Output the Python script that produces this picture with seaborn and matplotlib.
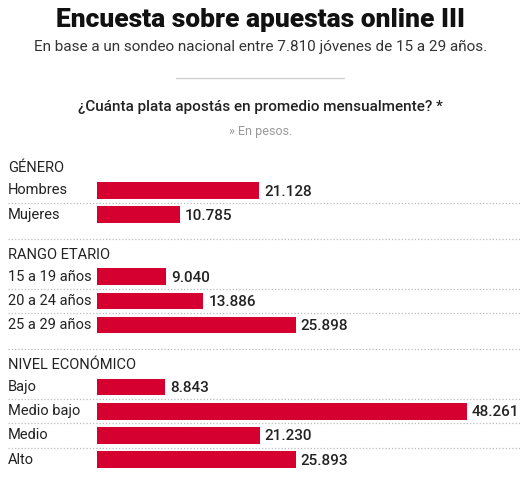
import matplotlib
matplotlib.use("Agg")
import matplotlib.pyplot as plt
import matplotlib.transforms as mtransforms
import seaborn as sns
import pandas as pd

sns.set_theme(style="white")
plt.rcParams["font.family"] = ["Roboto", "DejaVu Sans"]

# ---- data ----
title = "Encuesta sobre apuestas online III"
subtitle = "En base a un sondeo nacional entre 7.810 jóvenes de 15 a 29 años."
question = "¿Cuánta plata apostás en promedio mensualmente? *"
note = "» En pesos."

group_names = ["GÉNERO", "RANGO ETARIO", "NIVEL ECONÓMICO"]
genero_labels = ["Hombres", "Mujeres"]
genero_values = [21128, 10785]
edad_labels = ["15 a 19 años", "20 a 24 años", "25 a 29 años"]
edad_values = [9040, 13886, 25898]
nivel_labels = ["Bajo", "Medio bajo", "Medio", "Alto"]
nivel_values = [8843, 48261, 21230, 25893]

groups = [(genero_labels, genero_values), (edad_labels, edad_values),
          (nivel_labels, nivel_values)]

# ---- layout (pixel units, top-down) ----
W, H = 521, 480
PITCH = 24.2
first_bar = 190.5
header_off = 22
sep_after = 24
header_after_sep = 16
bar_left_px = 97
scale_px = 370 / 48261  # pixels per peso

rows = []
headers = []
seps = []
y = first_bar
for gi, (labs, vals) in enumerate(groups):
    headers.append((group_names[gi], y - header_off))
    for k, (l, v) in enumerate(zip(labs, vals)):
        rows.append({"label": l, "value": v, "ypos": y})
        if k < len(labs) - 1:
            seps.append(y + PITCH / 2)
            y += PITCH
    sep = y + sep_after
    if gi < len(groups) - 1:
        seps.append(sep)
    y = sep + header_after_sep + header_off

df = pd.DataFrame(rows)

fig = plt.figure(figsize=(W / 100, H / 100), dpi=100)
fig.patch.set_facecolor("white")
ax = fig.add_axes([bar_left_px / W, 0, 1 - bar_left_px / W, 1])
xmax = (W - bar_left_px) / scale_px

red = "#d5002f"
sns.barplot(data=df, x="value", y="ypos", orient="h", native_scale=True,
            color=red, width=0.68, saturation=1, ax=ax, edgecolor="none")
ax.set_xlim(0, xmax)
ax.set_ylim(H, 0)
ax.axis("off")

blend = mtransforms.blended_transform_factory(fig.transFigure, ax.transData)

# separators
for s in seps:
    ax.plot([8 / W, 1], [s, s], transform=blend, color="#bdbdbd", lw=0.9,
            linestyle=(0, (1, 1.6)), clip_on=False)

# headers
for name, hy in headers:
    ax.text(8 / W, hy, name, transform=blend, ha="left", va="center",
            fontsize=10.5, color="#222222")

# row labels and values
for _, r in df.iterrows():
    ax.text(8 / W, r["ypos"], r["label"], transform=blend, ha="left",
            va="center", fontsize=10.5, color="#222222")
    txt = f"{int(r['value']):,}".replace(",", ".")
    ax.text(r["value"] + 5 / scale_px, r["ypos"] + 1, txt, ha="left",
            va="center", fontsize=11, color="#222222", fontweight="medium",
            clip_on=False)

# titles
fig.text(0.5, 1 - 20 / H, title, ha="center", va="center", fontsize=19,
         fontweight="black", color="#111111")
fig.text(0.5, 1 - 47 / H, subtitle, ha="center", va="center", fontsize=11,
         color="#333333")
fig.add_artist(plt.Line2D([176 / W, 344 / W], [1 - 78 / H, 1 - 78 / H],
                          color="#d0d0d0", lw=1))
fig.text(0.5, 1 - 107 / H, question, ha="center", va="center", fontsize=11,
         fontweight="medium", color="#222222")
fig.text(0.5, 1 - 131 / H, note, ha="center", va="center", fontsize=9,
         color="#999999")

fig.savefig("out.png", dpi=100, facecolor="white")
